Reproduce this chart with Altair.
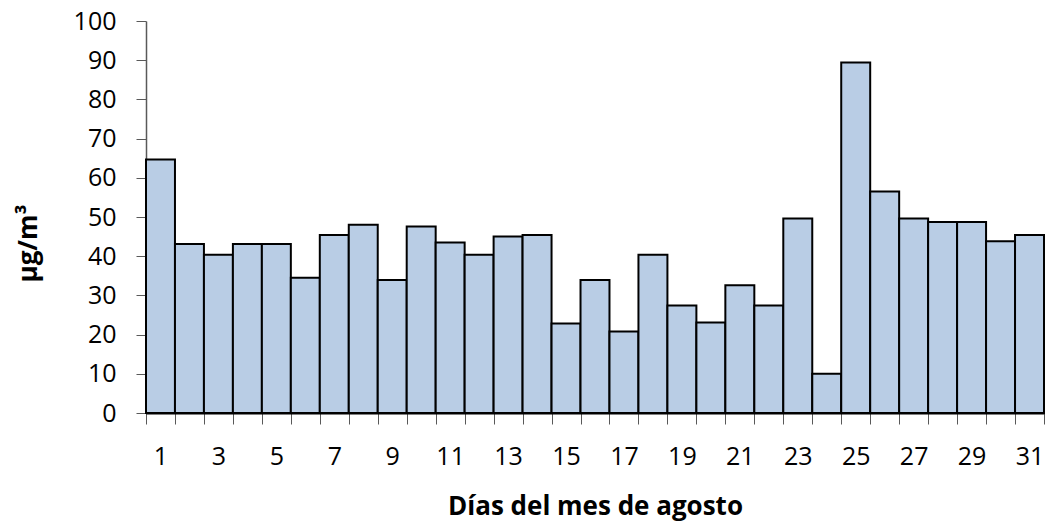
import altair as alt
import pandas as pd

days = list(range(1, 32))
values = [64.7, 43.1, 40.4, 43.1, 43.1, 34.5, 45.4, 48.0, 33.9, 47.6,
          43.5, 40.4, 45.0, 45.4, 22.8, 33.9, 20.8, 40.4, 27.4, 23.1,
          32.6, 27.4, 49.6, 10.0, 89.4, 56.5, 49.6, 48.7, 48.7, 43.8, 45.4]
y_ticks = list(range(0, 101, 10))

df = pd.DataFrame({"dia": days, "valor": values})

FONT = "Open Sans"

chart = alt.Chart(df).mark_bar(
    fill="#B9CDE5", stroke="black", strokeWidth=2
).encode(
    x=alt.X("dia:O",
            scale=alt.Scale(paddingInner=0, paddingOuter=0),
            axis=alt.Axis(
                title="Días del mes de agosto",
                labelAngle=0,
                labelExpr="datum.value % 2 == 1 ? datum.label : ''",
                tickBand="extent",
                tickSize=11,
                tickColor="#595959",
                domainColor="#000000",
                domainWidth=2,
                labelPadding=20,
                labelFontSize=25,
                labelFont=FONT,
                labelColor="#000000",
                titleFont=FONT,
                titleFontSize=26,
                titleFontWeight="bold",
                titleColor="#000000",
                titleY=93,
                titleBaseline="middle",
            )),
    y=alt.Y("valor:Q",
            scale=alt.Scale(domain=[0, 100], nice=False),
            axis=alt.Axis(
                title="µg/m³",
                values=y_ticks,
                grid=False,
                tickSize=10,
                tickColor="#595959",
                domainColor="#595959",
                domainWidth=1.5,
                labelPadding=20,
                labelFontSize=25,
                labelFont=FONT,
                labelColor="#000000",
                titleFont=FONT,
                titleFontSize=26,
                titleFontWeight="bold",
                titleColor="#000000",
                titleX=-118,
                titleY=222,
                titleAngle=-90,
                titleBaseline="middle",
            )),
).properties(
    width=898,
    height=392,
    autosize=alt.AutoSizeParams(type="none"),
    padding={"left": 138, "top": 13, "right": 2, "bottom": 110},
).configure_view(stroke=None)

chart.save("out.html", embed_options={"renderer": "svg", "actions": False})
